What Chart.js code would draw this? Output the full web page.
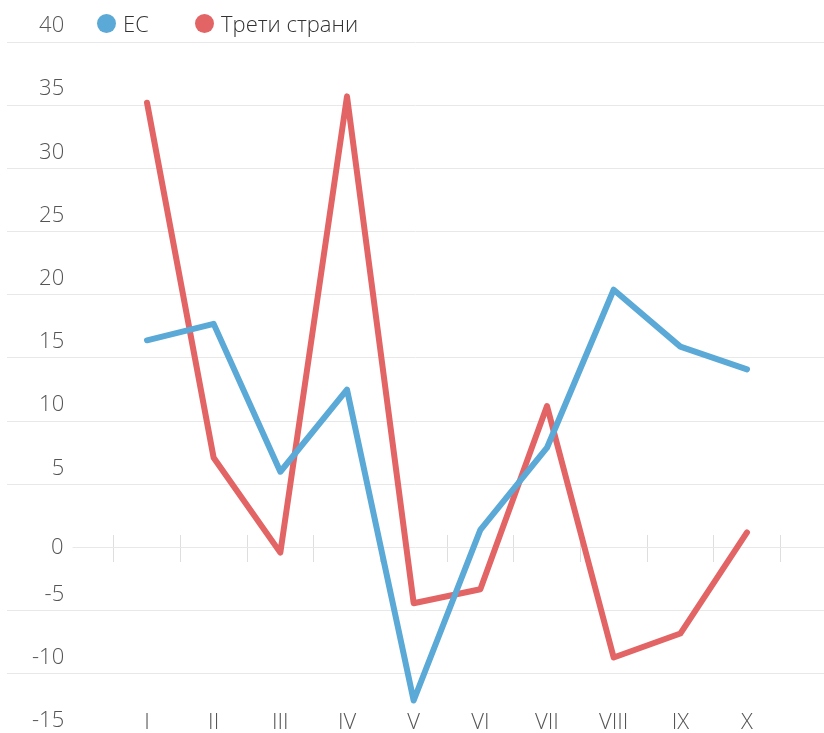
<!DOCTYPE html>
<html lang="bg">
<head>
<meta charset="utf-8">
<title>ЕС и трети страни</title>
<script src="https://cdn.jsdelivr.net/npm/chart.js@4.4.1/dist/chart.umd.min.js"></script>
<style>
  html, body { margin: 0; padding: 0; background: #fff; overflow: hidden; }
  #wrap { position: relative; width: 824px; height: 733px; }
  .legend-item {
    position: absolute; top: 8px; display: flex; align-items: center;
    font: 300 22px "Open Sans", sans-serif; color: #333; white-space: nowrap;
  }
  .legend-item i { display: inline-block; width: 19px; height: 19px; border-radius: 50%; margin-right: 7px; }
</style>
</head>
<body>
<div id="wrap">
  <canvas id="myChart" width="824" height="733"></canvas>
</div>
<script>
const months = ["I", "II", "III", "IV", "V", "VI", "VII", "VIII", "IX", "X"];
const seriesNames = ["ЕС", "Трети страни"];
const seriesColors = ["#5aa9d6", "#e36464"];
const euValues = [16.4, 17.7, 6.0, 12.5, -12.1, 1.4, 7.9, 20.4, 15.9, 14.1];
const thirdValues = [35.2, 7.1, -0.4, 35.7, -4.4, -3.3, 11.2, -8.7, -6.8, 1.2];
const yTicks = [-15, -10, -5, 0, 5, 10, 15, 20, 25, 30, 35, 40];

const wrap = document.getElementById("wrap");
const legendLeft = [97, 195];
seriesNames.forEach((name, i) => {
  const item = document.createElement("div");
  item.className = "legend-item";
  item.style.left = legendLeft[i] + "px";
  item.innerHTML = '<i style="background:' + seriesColors[i] + '"></i>';
  item.appendChild(document.createTextNode(name));
  wrap.appendChild(item);
});

const tickFont = { family: '"Open Sans", sans-serif', size: 22, weight: 300 };
const tickColor = "#555";

function toPoints(values) {
  return values.map((v, i) => ({ x: i, y: v }));
}

new Chart(document.getElementById("myChart"), {
  type: "line",
  data: {
    datasets: [
      {
        label: seriesNames[0],
        data: toPoints(euValues),
        borderColor: seriesColors[0],
        backgroundColor: seriesColors[0],
        borderWidth: 6,
        borderJoinStyle: "round",
        borderCapStyle: "round",
        pointRadius: 0,
        tension: 0,
      },
      {
        label: seriesNames[1],
        data: toPoints(thirdValues),
        borderColor: seriesColors[1],
        backgroundColor: seriesColors[1],
        borderWidth: 6,
        borderJoinStyle: "round",
        borderCapStyle: "round",
        pointRadius: 0,
        tension: 0,
      },
    ],
  },
  options: {
    responsive: false,
    animation: false,
    devicePixelRatio: 1,
    layout: { padding: { left: 7, top: 42, right: 0, bottom: 0 } },
    plugins: {
      legend: { display: false },
      tooltip: { enabled: false },
    },
    scales: {
      x: {
        type: "linear",
        bounds: "data",
        position: { y: 1.03 },
        min: -2.1,
        max: 10.155,
        afterBuildTicks: (s) => { s.ticks = months.map((m, i) => ({ value: i })); },
        afterFit: (s) => { s.paddingLeft = 0; s.paddingRight = 0; },
        border: { display: false },
        grid: { drawOnChartArea: false, drawTicks: true, tickLength: 27, offset: true, color: "#dedede" },
        ticks: {
          padding: 148,
          maxRotation: 0,
          autoSkip: false,
          font: tickFont,
          color: tickColor,
          callback: (v) => months[v],
        },
      },
      y: {
        type: "linear",
        position: "left",
        bounds: "data",
        min: -14.67,
        max: 40,
        afterBuildTicks: (s) => { s.ticks = yTicks.map((v) => ({ value: v })); },
        afterFit: (s) => { s.width = 0; s.paddingTop = 0; s.paddingBottom = 0; },
        border: { display: false },
        grid: { color: "#e8e8e8", drawTicks: false },
        ticks: {
          mirror: true,
          crossAlign: "far",
          padding: 25,
          labelOffset: -16,
          autoSkip: false,
          font: tickFont,
          color: tickColor,
          callback: (v) => (v === 0 ? "" : v),
        },
      },
      // zero label sits on its line, with white behind it
      y0: {
        type: "linear",
        position: "left",
        bounds: "data",
        min: -14.67,
        max: 40,
        afterBuildTicks: (s) => { s.ticks = [{ value: 0 }]; },
        afterFit: (s) => { s.width = 0; s.paddingTop = 0; s.paddingBottom = 0; },
        border: { display: false },
        grid: { display: false },
        ticks: {
          mirror: true,
          crossAlign: "far",
          padding: 44,
          autoSkip: false,
          font: tickFont,
          color: tickColor,
          showLabelBackdrop: true,
          backdropColor: "#fff",
          backdropPadding: { top: 3, bottom: 3, left: 45, right: 9 },
        },
      },
    },
  },
});
</script>
</body>
</html>
